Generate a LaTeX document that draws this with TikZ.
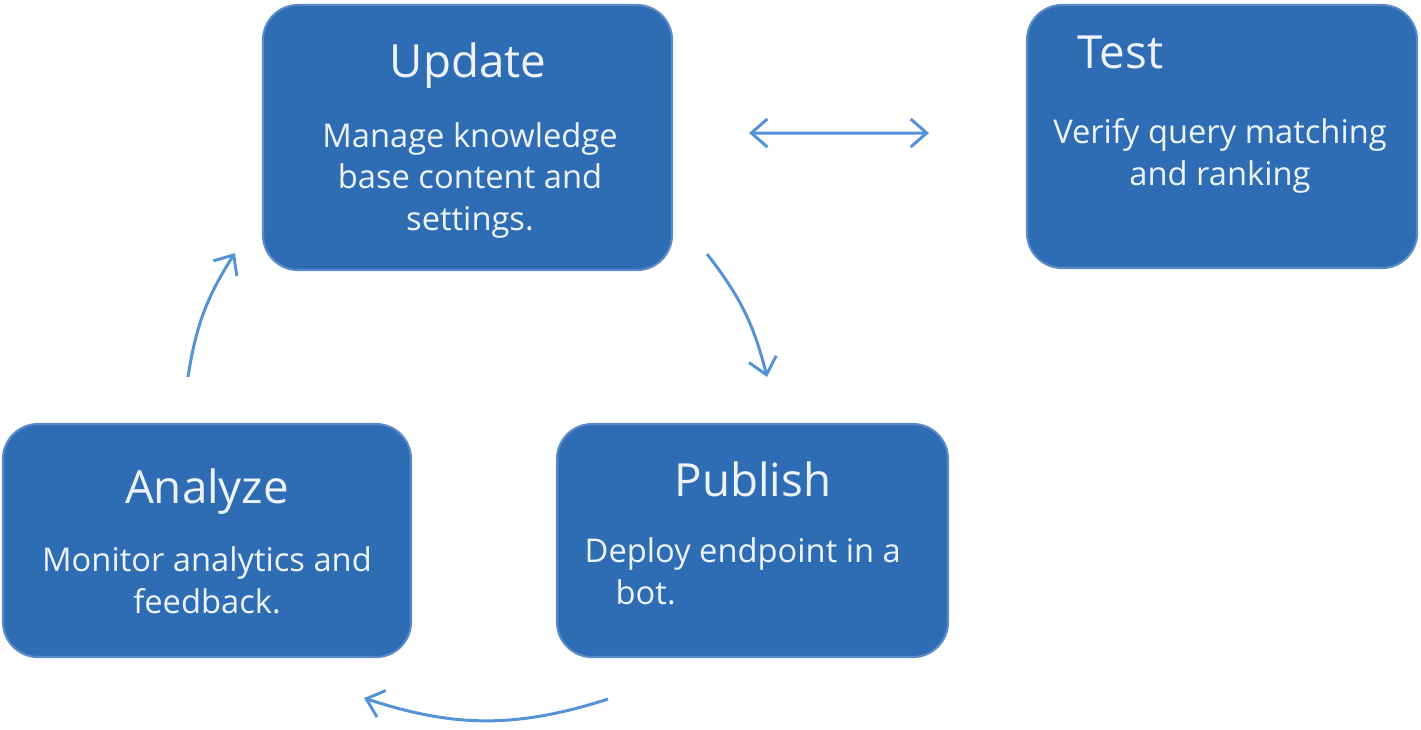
\documentclass[tikz,border=0pt]{standalone}
\usepackage{fontspec}
\setmainfont{Open Sans}
\usepackage{tikz}
\usetikzlibrary{arrows.meta,calc}
\definecolor{boxblue}{HTML}{2E6DB4}
\definecolor{boxedge}{HTML}{5A8BC8}
\definecolor{arrowblue}{HTML}{5593D8}
\definecolor{lighttext}{HTML}{EEF3FA}

\begin{document}
\begin{tikzpicture}[>={Straight Barb[length=1.6mm,width=2.8mm]},
  stagebox/.style={draw=boxedge, fill=boxblue, rounded corners=0.35cm, line width=0.6pt, inner sep=0pt},
  stagetitle/.style={text=lighttext, anchor=base, inner sep=0pt, font=\fontsize{13}{16}\selectfont},
  stagetext/.style={text=lighttext, anchor=base, inner sep=0pt, align=center, font=\fontsize{9.3}{11.7}\selectfont},
  flow/.style={->, arrowblue, line width=0.85pt}]
        \useasboundingbox (0,0) rectangle (14.21,7.29);
        \node[stagebox, minimum width=4.09cm, minimum height=2.65cm] (update)  at (4.675,5.915) {};
        \node[stagebox, minimum width=3.90cm, minimum height=2.63cm] (test)    at (12.22,5.925) {};
        \node[stagebox, minimum width=4.08cm, minimum height=2.33cm] (analyze) at (2.07,1.885)  {};
        \node[stagebox, minimum width=3.91cm, minimum height=2.33cm] (publish) at (7.525,1.885) {};
        \node[stagetitle] (updatetitle) at (4.68,6.52) {Update};
        \node[stagetext]  (updatetext)  at (4.70,4.99) {Manage knowledge\\base content and\\settings.};
        \node[stagetitle, anchor=base west] (testtitle) at (10.77,6.61) {Test};
        \node[stagetext]  (testtext)    at (12.20,5.44) {Verify query matching\\and ranking};
        \node[stagetitle] (analyzetitle) at (2.07,2.26) {Analyze};
        \node[stagetext]  (analyzetext)  at (2.07,1.16) {Monitor analytics and\\feedback.};
        \node[stagetitle] (publishtitle) at (7.53,2.33) {Publish};
        \node[stagetext, anchor=base west, align=left] (publishtext) at (5.84,1.25) {Deploy endpoint in a\\\hspace*{0.31cm}bot.};
        \draw[flow, <->] ($(update.east)+(0.76,0.045)$) -- ($(test.west)+(-0.97,0.035)$);
        \draw[flow] ($(update.south east)+(0.34,0.17)$) to[bend left=12] ($(publish.north)+(0.145,0.46)$);
        \draw[flow] ($(publish.south)+(-1.445,-0.41)$) to[bend left=18] ($(analyze.south east)+(-0.48,-0.40)$);
        \draw[flow] ($(analyze.north)+(-0.19,0.46)$) to[bend left=12] ($(update.south west)+(-0.27,0.18)$);
      \end{tikzpicture}
\end{document}
